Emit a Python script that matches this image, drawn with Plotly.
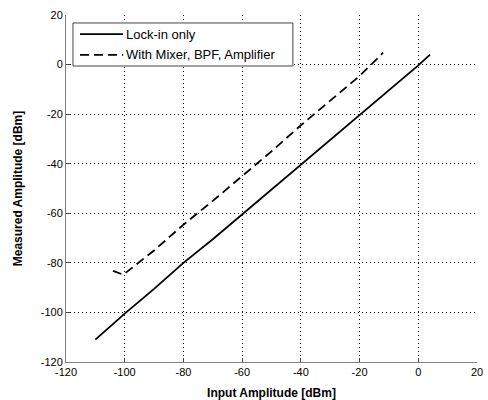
import plotly.graph_objects as go

# Lock-in amplifier alone
lockin_in = [-110, -100, -90, -80, -70, -60, -50, -40, -30, -20, -10, 0, 4]
lockin_out = [-111, -100.5, -90.5, -80, -70.5, -60.5, -50.5, -40.3, -30.5, -20.5, -10.5, -0.3, 4]

# Chain with mixer, band-pass filter and amplifier ahead of the lock-in
chain_in = [-104, -100.5, -90, -80, -70, -60, -50, -40, -30, -20, -15, -12]
chain_out = [-83.2, -84.8, -75, -64.6, -55, -45.1, -35, -24.5, -14.5, -4.6, 1.2, 4.8]

series_names = ["Lock-in only", "With Mixer, BPF, Amplifier"]
series_dash = ["solid", "9px,5px"]
tick_vals = list(range(-120, 21, 20))
tick_text = [str(v) for v in tick_vals]

FONT = "Liberation Sans, Arial, sans-serif"

fig = go.Figure()
for xs, ys, name, dash in zip([lockin_in, chain_in], [lockin_out, chain_out], series_names, series_dash):
    fig.add_trace(go.Scatter(x=xs, y=ys, mode="lines", name=name, showlegend=False,
                             line=dict(color="black", width=1.8, dash=dash)))

axis_common = dict(
    tickmode="array", tickvals=tick_vals, ticktext=tick_text,
    showgrid=True, gridcolor="black", gridwidth=1, griddash="1px,3px",
    zeroline=False, showline=True, linecolor="#808080", linewidth=1,
    ticks="inside", ticklen=4, tickcolor="#444",
    tickfont=dict(family=FONT, size=11, color="black"),
    mirror=False, automargin=False,
)

fig.update_xaxes(range=[-120, 20], **axis_common,
                 title=dict(text="<b>Input Amplitude [dBm]</b>",
                            font=dict(family=FONT, size=12, color="black")))
fig.update_yaxes(range=[-120, 20], **axis_common,
                 title=dict(text="<b>Measured Amplitude [dBm]</b>",
                            font=dict(family=FONT, size=12, color="black")))

# Boxed legend in the upper-left corner of the axes
box = dict(x0=0.017, x1=0.552, y0=0.853, y1=0.977)
fig.add_shape(type="rect", xref="paper", yref="paper", **box,
              line=dict(color="#444", width=1), fillcolor="white", layer="above")
row_y = [0.945, 0.885]
for name, dash, yy in zip(series_names, series_dash, row_y):
    fig.add_shape(type="line", xref="paper", yref="paper", x0=0.034, x1=0.139, y0=yy, y1=yy,
                  line=dict(color="black", width=1.8, dash=dash), layer="above")
    fig.add_annotation(xref="paper", yref="paper", x=0.141, y=yy, text=name, showarrow=False,
                       xanchor="left", yanchor="middle",
                       font=dict(family=FONT, size=13, color="black"))

fig.update_layout(
    width=488, height=400,
    margin=dict(l=66, r=11, t=15, b=38),
    plot_bgcolor="white", paper_bgcolor="white",
    showlegend=False,
)

fig.write_html("out.html")
